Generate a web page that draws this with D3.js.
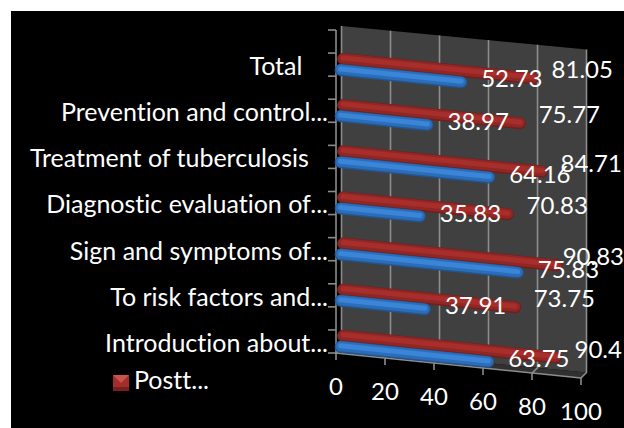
<!DOCTYPE html>
<html>
<head>
<meta charset="utf-8">
<script src="https://cdn.jsdelivr.net/npm/d3@7"></script>
<style>
    html, body { margin: 0; padding: 0; background: #fff; }
    svg { display: block; }
    text { font-family: Lato, "Open Sans", sans-serif; fill: #fff; white-space: pre; font-variant-ligatures: none; }
</style>
</head>
<body>
<div id="chart"></div>
<script>
// bottom to top, same order as the picture
const categories = [
    "Introduction about...",
    "To risk factors and...",
    "Sign and symptoms of...",
    "Diagnostic evaluation of...",
    "Treatment of tuberculosis   ",
    "Prevention and control...",
    "Total    "
]
const posttest = [90.4, 73.75, 90.83, 70.83, 84.71, 75.77, 81.05]
const pretest = [63.75, 37.91, 75.83, 35.83, 64.16, 38.97, 52.73]
const valueTicks = [0, 20, 40, 60, 80, 100]
const legendLabel = "Postt..."

const width = 624, height = 428

const svg = d3.select("#chart").append("svg")
    .attr("width", width)
    .attr("height", height)

svg.append("rect")
    .attr("x", 11).attr("y", 11)
    .attr("width", width - 11).attr("height", height - 11)
    .attr("fill", "#000")

// flat stand-in for the 3d view: value runs right and a little down
let xScale = d3.scaleLinear().domain([0, 100]).range([0, 245])
let dropScale = d3.scaleLinear().domain([0, 100]).range([0, 25])
// category axis, 0 at the front floor edge, 7 at the top
let catScale = d3.scaleLinear().domain([0, 7]).range([353, 30])

// the bars start a little way in from the axis
const barStart = 3.5

function frontPoint(v, c) {
    return [336 + xScale(v), catScale(c) + dropScale(v)]
}
// wall sits a bit up and to the right of the front plane
function wallPoint(v, c) {
    return [341.5 + xScale(v), catScale(c) - 4 + dropScale(v) * 0.94]
}
function barPoint(v, c, x0, offset) {
    return [x0 + xScale(v), catScale(c + 0.25) + offset + dropScale(v)]
}

let line = d3.line()

// wall
svg.append("path")
    .attr("d", line([wallPoint(0, 7), wallPoint(100, 7), wallPoint(100, 0), wallPoint(0, 0)]) + "Z")
    .attr("fill", "#404040")

// floor
svg.append("path")
    .attr("d", line([frontPoint(0, 0), frontPoint(100, 0), wallPoint(100, 0), wallPoint(0, 0)]) + "Z")
    .attr("fill", "#303030")

// grid lines on the wall and across the floor
valueTicks.forEach(t => {
    svg.append("path")
        .attr("d", line([wallPoint(t, 7), wallPoint(t, 0), frontPoint(t, 0)]))
        .attr("fill", "none")
        .attr("stroke", "#8c8c8c")
        .attr("stroke-width", 1.6)
})

// axis lines
svg.append("path")
    .attr("d", line([frontPoint(0, 7), frontPoint(0, 0), frontPoint(100, 0)]))
    .attr("fill", "none")
    .attr("stroke", "#8c8c8c")
    .attr("stroke-width", 1.6)

// left ticks, two for each category
d3.range(0, 7.5, 0.5).forEach(c => {
    svg.append("line")
        .attr("x1", 328).attr("x2", 336)
        .attr("y1", catScale(c)).attr("y2", catScale(c))
        .attr("stroke", "#8c8c8c")
        .attr("stroke-width", 1.6)
})

// bottom ticks
valueTicks.forEach(t => {
    let p = frontPoint(t, 0)
    svg.append("line")
        .attr("x1", p[0]).attr("x2", p[0])
        .attr("y1", p[1]).attr("y2", p[1] + 7)
        .attr("stroke", "#8c8c8c")
        .attr("stroke-width", 1.6)

    svg.append("text")
        .attr("x", p[0])
        .attr("y", p[1] + 36)
        .attr("text-anchor", "middle")
        .attr("dominant-baseline", "middle")
        .attr("font-size", 24)
        .text(t)
})

// cylinder look: wide dark stroke, then lighter ones on top
function drawBar(v, c, x0, offset, shades) {
    let pts = [barPoint(barStart, c, x0, offset), barPoint(v, c, x0, offset)]
    let g = svg.append("g")
    shades.forEach(s => {
        g.append("path")
            .attr("d", line(pts.map(p => [p[0], p[1] + s.dy])))
            .attr("fill", "none")
            .attr("stroke", s.color)
            .attr("stroke-width", s.w)
            .attr("stroke-linecap", "round")
    })
}

let redShades = [
    { color: "#731e1c", w: 12, dy: 0 },
    { color: "#8f2725", w: 10, dy: -0.5 },
    { color: "#a82e2c", w: 5, dy: -1 }
]
let blueShades = [
    { color: "#21568f", w: 12, dy: 0 },
    { color: "#2c6db9", w: 10, dy: -0.5 },
    { color: "#3a85d8", w: 5, dy: -1 }
]

categories.forEach((name, i) => {
    drawBar(posttest[i], i, 334.5, -6.5, redShades)
    drawBar(pretest[i], i, 332, 4.5, blueShades)
})

// value labels go after the bars, they overlap them in the original
categories.forEach((name, i) => {
    let pR = barPoint(posttest[i], i, 334.5, -6.5)
    let labelR = svg.append("text")
        .attr("x", pR[0] + 18.5)
        .attr("y", pR[1] - 6)
        .attr("dominant-baseline", "middle")
        .attr("font-size", 24)
        .text(posttest[i])
    // keep the longest label inside the window
    let room = width - labelR.node().getComputedTextLength()
    labelR.attr("x", Math.min(pR[0] + 18.5, room))

    let pB = barPoint(pretest[i], i, 332, 4.5)
    svg.append("text")
        .attr("x", pB[0] + 20)
        .attr("y", pB[1] - 1)
        .attr("dominant-baseline", "middle")
        .attr("font-size", 24)
        .text(pretest[i])

    svg.append("text")
        .attr("x", 328)
        .attr("y", catScale(i + 0.25) + 4)
        .attr("text-anchor", "end")
        .attr("dominant-baseline", "middle")
        .attr("font-size", 25)
        .text(name)
})

// legend
svg.append("rect")
    .attr("x", 113).attr("y", 375)
    .attr("width", 16).attr("height", 16)
    .attr("fill", "#a32d2b")
svg.append("path")
    .attr("d", "M113,375L129,375L121,383Z")
    .attr("fill", "#c9524f")
svg.append("path")
    .attr("d", "M113,391L129,391L129,387L113,387Z")
    .attr("fill", "#7a1f1d")
svg.append("text")
    .attr("x", 134)
    .attr("y", 383)
    .attr("dominant-baseline", "middle")
    .attr("font-size", 25)
    .text(legendLabel)
</script>
</body>
</html>
